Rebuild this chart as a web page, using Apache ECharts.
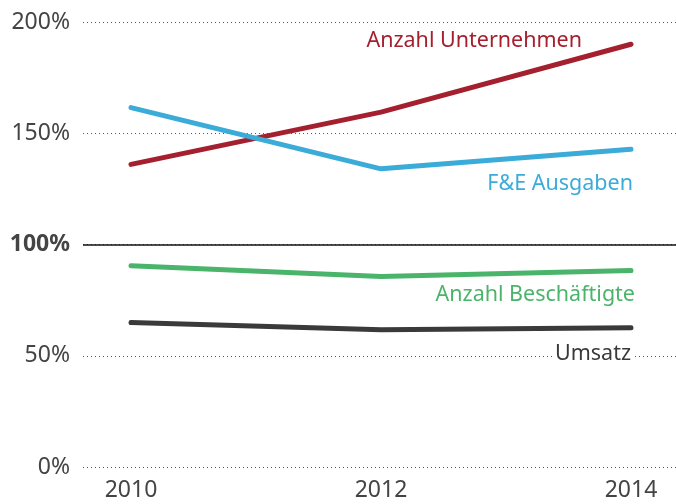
<!DOCTYPE html>
<html lang="de">
<head>
    <meta charset="UTF-8">
    <title>Entwicklung</title>
    <script src="https://cdn.jsdelivr.net/npm/echarts@6/dist/echarts.min.js"></script>
    <style>
        html, body { margin: 0; padding: 0; background: #fff; }
        #chart { width: 676px; height: 504px; }
    </style>
</head>
<body>
<div id="chart"></div>
<script>
    // Werte in %
    const years = ["2010", "2012", "2014"];
    const yTicks = [0, 50, 100, 150, 200];
    const unternehmen = [136, 159.5, 190];
    const fue = [161.5, 134, 142.8];
    const beschaeftigte = [90.5, 85.6, 88.3];
    const umsatz = [64.9, 61.7, 62.6];

    const FONT = "Noto Sans";
    const GREY = "#444";

    function lastLabel(text, color, offset, extra) {
        return Object.assign({
            show: true,
            formatter: text,
            position: "left",
            distance: 0,
            offset: offset,
            align: "right",
            verticalAlign: "middle",
            color: color,
            fontFamily: FONT,
            fontSize: 21.5
        }, extra || {});
    }

    function makeSeries(name, values, color, label) {
        return {
            name: name,
            type: "line",
            xAxisIndex: 1,
            yAxisIndex: 1,
            data: values.map((v, i) => i === values.length - 1 ? {value: v, label: label} : v),
            symbol: "circle",
            symbolSize: 0,
            showSymbol: true,
            lineStyle: {color: color, width: 5, cap: "round", join: "round"},
            itemStyle: {color: color},
            z: 3,
            animation: false
        };
    }

    const chart = echarts.init(document.getElementById("chart"));
    chart.setOption({
        animation: false,
        grid: [
            {left: 83, right: 0, top: 22, bottom: 37},
            {left: 131, right: 45, top: 22, bottom: 37}
        ],
        xAxis: [
            {gridIndex: 0, type: "category", data: years, show: false},
            {
                gridIndex: 1, type: "category", data: years, boundaryGap: false,
                axisLine: {show: false}, axisTick: {show: false}, splitLine: {show: false},
                axisLabel: {color: GREY, fontFamily: FONT, fontSize: 23, margin: 12}
            }
        ],
        yAxis: [
            {
                gridIndex: 0, type: "value", min: 0, max: 200, interval: 50,
                axisLine: {show: false}, axisTick: {show: false},
                axisLabel: {
                    margin: 13, fontFamily: FONT, fontSize: 23, color: GREY,
                    formatter: v => v === 100 ? "{b|" + v + "%}" : v + "%",
                    rich: {b: {fontWeight: "bold", fontFamily: FONT, fontSize: 23, color: GREY}}
                },
                splitLine: {lineStyle: {color: "#555", type: [1, 3], width: 1}}
            },
            {gridIndex: 1, type: "value", min: 0, max: 200, interval: 50, show: false}
        ],
        series: [
            {
                type: "line", xAxisIndex: 0, yAxisIndex: 0, data: [],
                markLine: {
                    silent: true, symbol: "none", label: {show: false},
                    lineStyle: {color: "#111", type: "solid", width: 1.5},
                    data: [{yAxis: yTicks[2]}]
                },
                z: 1
            },
            makeSeries("Anzahl Unternehmen", unternehmen, "#A5202F",
                lastLabel("Anzahl Unternehmen", "#A5202F", [-49, -3])),
            makeSeries("F&E Ausgaben", fue, "#3BABD8",
                lastLabel("F&E Ausgaben", "#3BABD8", [2, 35])),
            makeSeries("Anzahl Beschäftigte", beschaeftigte, "#4BB46B",
                lastLabel("Anzahl Beschäftigte", "#4BB46B", [4, 24])),
            makeSeries("Umsatz", umsatz, "#3A3A3A",
                lastLabel("Umsatz", "#3A3A3A", [1, 26], {backgroundColor: "#fff", padding: [0, 1]}))
        ]
    });
</script>
</body>
</html>
